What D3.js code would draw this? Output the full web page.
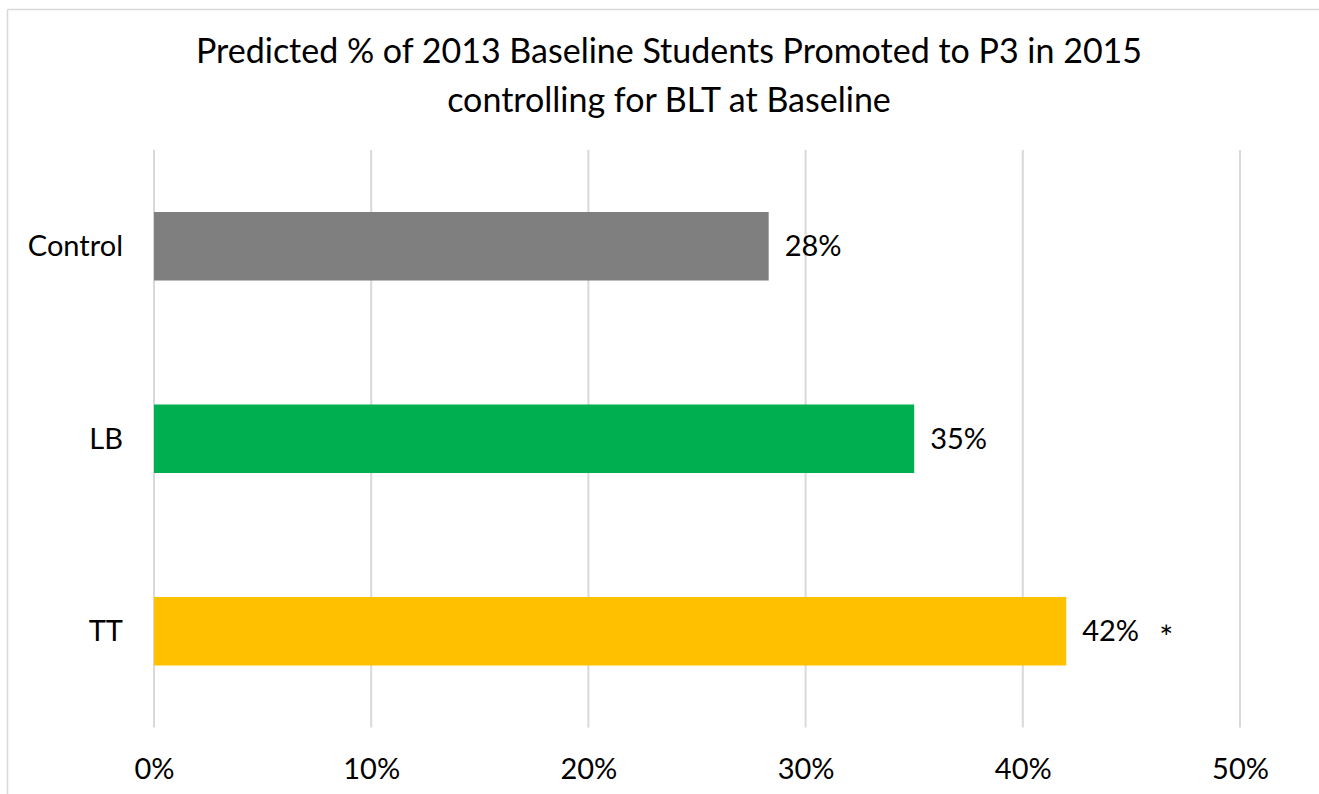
<!DOCTYPE html>
<html>
<head>
<meta charset="utf-8">
<script src="https://cdn.jsdelivr.net/npm/d3@7"></script>
<style>
  html, body { margin: 0; padding: 0; background: #fff; overflow: hidden; }
  svg { display: block; font-family: Lato, "Noto Sans", sans-serif; }
</style>
</head>
<body>
<svg id="chart" width="1319" height="794"></svg>
<script>
// Groups and predicted promotion rates (%)
const categories = ["Control", "LB", "TT"];
const values = [28.3, 35, 42];
const valueLabels = ["28%", "35%", "42%"];
const markers = ["", "", "*"];
const barColors = ["#7f7f7f", "#00b050", "#ffc000"];
const xTicks = [0, 10, 20, 30, 40, 50];
const titleLines = [
  "Predicted % of 2013 Baseline Students Promoted to P3 in 2015",
  "controlling for BLT at Baseline"
];

const svg = d3.select("#chart");
const W = 1319, H = 794;
const FONT = "Lato, 'Noto Sans', sans-serif";

// chart frame: only its top and left edges fall inside the page
const frame = svg.append("g")
  .attr("stroke", "#d9d9d9").attr("stroke-width", 1.5);
frame.append("line").attr("x1", 7.5).attr("x2", W).attr("y1", 9.5).attr("y2", 9.5);
frame.append("line").attr("x1", 7.5).attr("x2", 7.5).attr("y1", 9.5).attr("y2", H);

const plot = { left: 154, right: 1240, top: 150, bottom: 727.5 };

const x = d3.scaleLinear().domain([0, 50]).range([plot.left, plot.right]);
const y = d3.scaleBand().domain(categories)
  .range([plot.top, plot.bottom])
  .paddingInner(0.644).paddingOuter(0.322);

// title
svg.append("g").selectAll("text").data(titleLines).join("text")
  .attr("x", 669).attr("y", (d, i) => 63 + i * 49)
  .attr("text-anchor", "middle")
  .attr("font-size", 34)
  .attr("fill", "#000")
  .text(d => d);

// vertical gridlines
svg.append("g").selectAll("line").data(xTicks).join("line")
  .attr("x1", d => x(d)).attr("x2", d => x(d))
  .attr("y1", plot.top).attr("y2", plot.bottom)
  .attr("stroke", "#d9d9d9").attr("stroke-width", 2);

// x axis labels
const xAxis = d3.axisBottom(x).tickValues(xTicks)
  .tickFormat(d => d + "%").tickSize(0).tickPadding(0);
const gx = svg.append("g")
  .attr("transform", `translate(0,${plot.bottom})`)
  .call(xAxis);
gx.select(".domain").remove();
gx.selectAll("text")
  .attr("font-family", FONT)
  .attr("font-size", 29).attr("fill", "#000")
  .attr("y", 51.5).attr("dy", null);

// category axis labels
const yAxis = d3.axisLeft(y).tickSize(0).tickPadding(31);
const gy = svg.append("g")
  .attr("transform", `translate(${plot.left},0)`)
  .call(yAxis);
gy.select(".domain").remove();
gy.selectAll("text")
  .attr("font-family", FONT)
  .attr("font-size", 29).attr("fill", "#000")
  .attr("dy", null).attr("y", 10);

// bars
const rows = categories.map((c, i) => ({
  c, v: values[i], label: valueLabels[i], mark: markers[i], color: barColors[i]
}));
svg.append("g").selectAll("rect").data(rows).join("rect")
  .attr("x", x(0))
  .attr("y", d => y(d.c))
  .attr("width", d => x(d.v) - x(0))
  .attr("height", y.bandwidth())
  .attr("fill", d => d.color);

// value labels
svg.append("g").selectAll("text").data(rows).join("text")
  .attr("x", d => x(d.v) + 16)
  .attr("y", d => y(d.c) + y.bandwidth() / 2 + 10)
  .attr("font-size", 29).attr("fill", "#000")
  .text(d => d.label);

// significance marker, centred on the bar
svg.append("g").selectAll("text").data(rows.filter(d => d.mark)).join("text")
  .attr("x", d => x(d.v) + 100)
  .attr("y", d => y(d.c) + y.bandwidth() / 2 + 18)
  .attr("text-anchor", "middle")
  .attr("font-size", 33).attr("fill", "#000")
  .text(d => d.mark);
</script>
</body>
</html>
